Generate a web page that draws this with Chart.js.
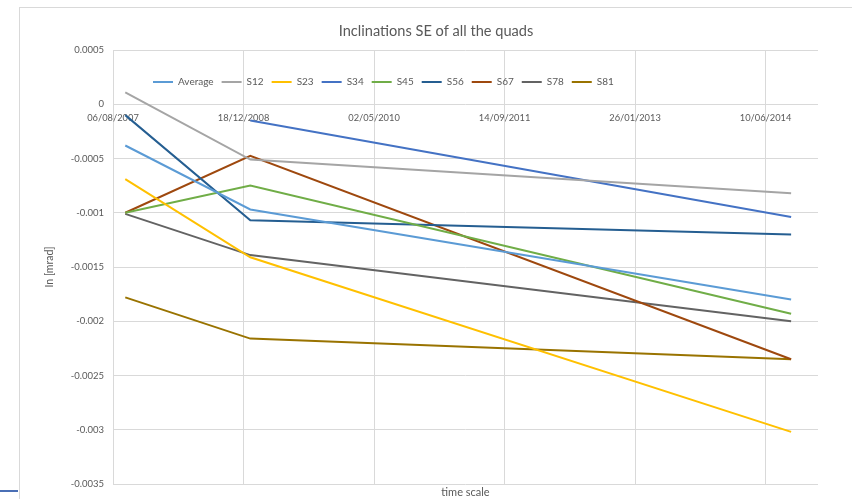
<!DOCTYPE html>
<html>
<head>
<meta charset="utf-8">
<title>Inclinations SE of all the quads</title>
<script src="https://cdn.jsdelivr.net/npm/chart.js@4.4.1/dist/chart.umd.min.js"></script>
<style>
  html, body { margin: 0; padding: 0; background: #fff; overflow: hidden; }
  #frame {
    position: absolute; left: 19px; top: 7px;
    width: 832px; height: 491px;
    border-left: 1px solid #d9d9d9; border-top: 1px solid #d9d9d9;
  }
  #edge { position: absolute; left: 0; top: 490px; width: 18px; height: 2px; background: #4a6fb5; }
</style>
</head>
<body>
<div id="edge"></div>
<div id="frame"><canvas id="myChart"></canvas></div>
<script>
// survey dates and inclination per quad [mrad]
const dates = ['2007-09-22', '2009-01-13', '2014-09-16'];
const average = [-0.00038, -0.00097, -0.0018];
const s12 = [0.00011, -0.00051, -0.00082];
const s23 = [-0.00069, -0.00141, -0.00302];
const s34 = [null, -0.00015, -0.00104];
const s45 = [-0.001, -0.00075, -0.00193];
const s56 = [-0.0001, -0.00107, -0.0012];
const s67 = [-0.001, -0.000475, -0.00235];
const s78 = [-0.00101, -0.00139, -0.002];
const s81 = [-0.00178, -0.00216, -0.00235];

const names = ['Average', 'S12', 'S23', 'S34', 'S45', 'S56', 'S67', 'S78', 'S81'];
const values = [average, s12, s23, s34, s45, s56, s67, s78, s81];
const colors = ['#5b9bd5', '#a5a5a5', '#ffc000', '#4472c4', '#70ad47', '#255e91', '#9e480e', '#636363', '#997300'];

const xTickLabels = ['06/08/2007', '18/12/2008', '02/05/2010', '14/09/2011', '26/01/2013', '10/06/2014'];
const xEnd = '28/12/2014';

const dayOf = s => Math.round(Date.parse(s + 'T00:00:00Z') / 86400000);
const fromLabel = l => { const p = l.split('/'); return dayOf(p[2] + '-' + p[1] + '-' + p[0]); };

const grey = '#595959';
Chart.defaults.font.family = 'Lato, "Open Sans", sans-serif';
Chart.defaults.color = grey;

// legend lives inside the plot as a single row, a bit below the top gridline;
// title is centred on the whole canvas, not on the padded box
const legendInside = {
  id: 'legendInside',
  beforeLayout(chart) {
    if (chart.legend) chart.legend.isHorizontal = () => true;
  },
  afterLayout(chart) {
    const lg = chart.legend, area = chart.chartArea;
    lg.left = area.left + 32;
    lg.right = area.right;
    lg.top = area.top + 19;
    if (chart.titleBlock) {
      chart.titleBlock.left = 0;
      chart.titleBlock.right = chart.width;
    }
  }
};

new Chart(document.getElementById('myChart'), {
  type: 'line',
  data: {
    datasets: names.map((n, k) => ({
      label: n,
      data: dates.map((d, i) => ({ x: dayOf(d), y: values[k][i] })),
      borderColor: colors[k],
      backgroundColor: colors[k],
      borderWidth: 2,
      pointRadius: 0,
      fill: false,
      xAxisID: 'x',
      yAxisID: 'y'
    }))
  },
  options: {
    responsive: true,
    maintainAspectRatio: false,
    animation: false,
    layout: { padding: { left: 0, right: 34, top: 0, bottom: 0 } },
    plugins: {
      title: {
        display: true,
        text: 'Inclinations SE of all the quads',
        color: grey,
        font: { size: 14.6, weight: 'normal' },
        padding: { top: 14.5, bottom: 10 }
      },
      legend: {
        position: 'chartArea',
        align: 'start',
        labels: {
          usePointStyle: true,
          pointStyle: 'line',
          pointStyleWidth: 20,
          padding: 8,
          color: grey,
          font: { size: 10 }
        }
      },
      tooltip: { enabled: false }
    },
    scales: {
      x: {
        type: 'linear',
        position: { y: 0 },
        min: fromLabel(xTickLabels[0]),
        max: fromLabel(xEnd),
        afterBuildTicks(s) { s.ticks = xTickLabels.map(l => ({ value: fromLabel(l) })); },
        ticks: {
          autoSkip: false, maxRotation: 0, padding: 8,
          font: { size: 9.3 },
          callback: (v, i) => xTickLabels[i]
        },
        grid: { color: '#d9d9d9', drawTicks: false },
        border: { display: false },
        afterFit(s) { s.height = 0; }
      },
      x2: {
        type: 'linear',
        position: 'bottom',
        ticks: { display: false },
        grid: { display: false },
        border: { display: false },
        title: { display: true, text: 'time scale', color: grey, font: { size: 11 }, padding: { top: 0, bottom: 0 } },
        afterFit(s) { s.height = 15; }
      },
      y: {
        min: -0.0035,
        max: 0.0005,
        ticks: {
          stepSize: 0.0005, padding: 9,
          font: { size: 9.5 },
          callback: v => String(+v.toFixed(4))
        },
        grid: { color: '#d9d9d9', drawTicks: false },
        border: { display: false },
        title: { display: true, text: 'In [mrad]', color: grey, font: { size: 10.5 }, padding: { top: 23.5, bottom: 0 } },
        afterFit(s) { s.width = 93; }
      }
    }
  },
  plugins: [legendInside]
});
</script>
</body>
</html>
